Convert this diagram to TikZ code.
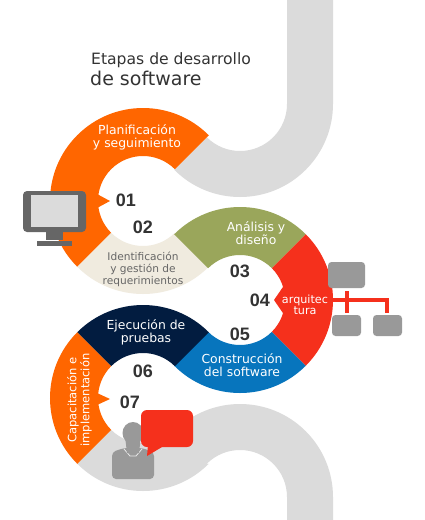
\documentclass[tikz,border=0pt]{standalone}
\usepackage{fontspec}
\setmainfont{DejaVu Sans}
\newfontfamily\numfont{Liberation Sans}
\definecolor{cOrange}{HTML}{FF6600}
\definecolor{cCream}{HTML}{F0EBDF}
\definecolor{cGreen}{HTML}{9AA65B}
\definecolor{cRed}{HTML}{F5301C}
\definecolor{cBlue}{HTML}{0775BD}
\definecolor{cNavy}{HTML}{021C40}
\definecolor{cGrayBand}{HTML}{DBDBDB}
\definecolor{cIcon}{HTML}{999999}
\definecolor{cMonitor}{HTML}{666666}
\definecolor{cInk}{HTML}{333333}
\newcommand{\ringpart}[4]{\fill[#1] (#2) ++(#3:93pt) arc[start angle=#3,end angle=#4,radius=93pt] -- ([shift={(#4:45pt)}]#2) arc[start angle=#4,end angle=#3,radius=45pt] -- cycle;}
\tikzset{
  x=1pt,y=-1pt,
  lab/.style={text=white,font=\fontsize{12.4}{13}\selectfont,inner sep=0pt,align=center},
  labsm/.style={text=cMonitor,font=\fontsize{10.6}{12}\selectfont,inner sep=0pt,align=center},
  num/.style={text=cInk,font=\numfont\fontsize{18}{18}\selectfont\bfseries,inner sep=0pt},
  ttl/.style={text=cInk,inner sep=0pt,anchor=base west},
  iconbox/.style={fill=cIcon,rounded corners=3.5pt},
  orgline/.style={draw=cRed,line width=4pt}
}
\begin{document}
\begin{tikzpicture}
\useasboundingbox[fill=white] (0,0) rectangle (425,520);
\coordinate (c0) at (240,104);
\coordinate (c1) at (143,201);
\coordinate (c2) at (240,300);
\coordinate (c3) at (143,398);
\coordinate (c4) at (240,497);
% grey bands
\fill[cGrayBand] (287,-1) -- (287,104) arc[start angle=0,end angle=-135,radius=47pt]
  -- ([shift={(225:93pt)}]c0) arc[start angle=225,end angle=360,radius=93pt] -- (333,-1) -- cycle;
\fill[cGrayBand] (287,521) -- (287,497) arc[start angle=0,end angle=135,radius=47pt]
  -- ([shift={(315:93pt)}]c3) arc[start angle=315,end angle=225,radius=93pt]
  -- ([shift={(225:45pt)}]c3) arc[start angle=225,end angle=315,radius=45pt]
  -- ([shift={(135:93pt)}]c4) arc[start angle=135,end angle=0,radius=93pt] -- (333,521) -- cycle;
% ring segments
\ringpart{cOrange}{c1}{45}{225}
\ringpart{cCream}{c1}{225}{315}
\ringpart{cGreen}{c2}{45}{135}
\ringpart{cRed}{c2}{-45}{45}
\ringpart{cBlue}{c2}{-135}{-45}
\ringpart{cNavy}{c3}{45}{135}
\ringpart{cOrange}{c3}{135}{225}
% pointers
\fill[cOrange] (97,194) -- (110,201) -- (97,208) -- cycle;
\fill[cOrange] (97,393) -- (110,399) -- (97,405) -- cycle;
\fill[cRed] (285,284) -- (274,300) -- (285,316) -- cycle;
% monitor
\fill[cMonitor] (46,230) rectangle (63,240);
\fill[cMonitor] (37,241) rectangle (72,246);
\fill[cMonitor,rounded corners=4pt] (23,191) rectangle (86,232);
\fill[cGrayBand] (31,195) rectangle (78,227);
% org chart
\node[iconbox,minimum width=37pt,minimum height=26pt,inner sep=0pt] (orgtop) at (346.5,275) {};
\node[iconbox,minimum width=29pt,minimum height=21pt,inner sep=0pt] (orgleft) at (346.5,325.5) {};
\node[iconbox,minimum width=29pt,minimum height=21pt,inner sep=0pt] (orgright) at (387.5,325.5) {};
\coordinate (orgstart) at (325,300);
\coordinate (orgcorner) at (387,300);
\coordinate (orgup) at (347,291);
\coordinate (orgdown) at (347,313);
\coordinate (orgend) at (387,313);
\draw[orgline] (orgstart) -- (orgcorner) -- (orgend);
\draw[orgline] (orgup) -- (orgdown);
% person
\fill[cIcon,rounded corners=4pt] (112,479) -- (112,452) -- (124,448) -- (142,448) -- (154,452) -- (154,479) -- cycle;
\draw[white!80!cIcon,line width=0.8pt] (124,449) -- (130,456) -- (136,456) -- (142,449);
\fill[cIcon] (133,433) ellipse[x radius=10.5pt,y radius=11pt];
\fill[cIcon] (125,436) -- (141,436) -- (139,453) -- (127,453) -- cycle;
% speech bubble
\fill[cRed,rounded corners=6pt] (141,410) rectangle (193,447);
\fill[cRed] (148,445) -- (147,456) -- (162,447) -- cycle;
% title
\node[ttl,font=\fontsize{15.6}{16}\selectfont] (title1) at (91,64) {Etapas de desarrollo};
\node[ttl,font=\fontsize{19}{19}\selectfont] (title2) at (90,85) {de software};
% labels
\node[lab] (l1) at (137,137.5) {Planificación\\y seguimiento};
\node[lab] (l2) at (256,233.5) {Análisis y\\diseño};
\node[labsm] (l3) at (143,269) {Identificación\\y gestión de\\requerimientos};
\node[lab,font=\fontsize{11.2}{11.5}\selectfont] (l4) at (305,305) {arquitec\\tura};
\node[lab] (l5) at (146,332.5) {Ejecución de\\pruebas};
\node[lab] (l6) at (242,365) {Construcción\\del software};
\node[lab,rotate=90,font=\fontsize{11.5}{13}\selectfont] (l7) at (79.5,400) {Capacitación e\\implementación};
% numbers
\node[num] (n1) at (126,200) {01};
\node[num] (n2) at (143,227) {02};
\node[num] (n3) at (240,271) {03};
\node[num] (n4) at (260,300) {04};
\node[num] (n5) at (240,334) {05};
\node[num] (n6) at (143,371) {06};
\node[num] (n7) at (130,402) {07};
\end{tikzpicture}
\end{document}
